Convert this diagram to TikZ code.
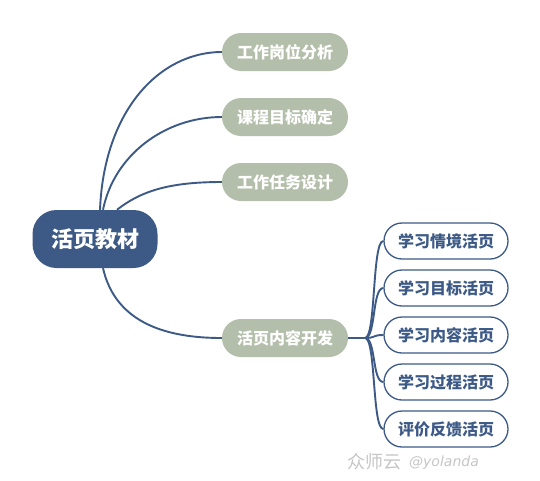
\documentclass[tikz,border=0pt]{standalone}
\usepackage{fontspec}
\setmainfont{Noto Sans CJK SC}
\newfontfamily\markfont{DejaVu Sans}
\usepackage{xcolor}
\definecolor{mapblue}{HTML}{3D5A87}
\definecolor{mapgreen}{HTML}{B3BFAB}
\definecolor{markgray}{HTML}{C6C6C6}

\begin{document}
\begin{tikzpicture}[x=1pt, y=-1pt,
  root/.style={rectangle, rounded corners=24pt, fill=mapblue, text=white, inner sep=0pt,
    minimum width=125pt, minimum height=58pt, font=\fontsize{22}{24}\selectfont\bfseries},
  topic/.style={rectangle, rounded corners=19pt, fill=mapgreen, text=white, inner sep=0pt,
    minimum width=126pt, minimum height=38pt, font=\fontsize{16}{18}\selectfont\bfseries},
  leaf/.style={rectangle, rounded corners=18pt, draw=mapblue, line width=1.3pt, fill=white,
    text=mapblue, inner sep=0pt, minimum width=124pt, minimum height=36pt,
    font=\fontsize{16}{18}\selectfont\bfseries},
  link/.style={draw=mapblue, line width=1.9pt},
  wmark/.style={text=markgray, inner sep=0pt}
]
\fill[white] (0,0) rectangle (540,480);
\useasboundingbox (0,0) rectangle (540,480);

\node[root] (r) at (95,239) {活页教材};
\node[topic] (a1) at (285,52) {工作岗位分析};
\node[topic] (a2) at (285,117) {课程目标确定};
\node[topic] (a3) at (285,182) {工作任务设计};
\node[topic] (a4) at (285,338) {活页内容开发};
\node[leaf] (b1) at (446,241) {学习情境活页};
\node[leaf] (b2) at (446,288) {学习目标活页};
\node[leaf] (b3) at (446,335) {学习内容活页};
\node[leaf] (b4) at (446,382) {学习过程活页};
\node[leaf] (b5) at (446,429) {评价反馈活页};
\coordinate (fork) at (365,338);

% root to topics
\draw[link] ([xshift=5pt]r.north) .. controls (104,110) and (160,52) .. (a1.west);
\draw[link] ([xshift=8pt]r.north) .. controls (114,155) and (165,117) .. (a2.west);
\draw[link] ([xshift=22pt]r.north) .. controls (142,190) and (172,182) .. (a3.west);
\draw[link] ([xshift=8pt]r.south) .. controls (116,325) and (170,338) .. (a4.west);

% topic to pages
\draw[link] (a4.east) -- (fork);
\foreach \i/\y in {1/241, 2/288, 3/335, 4/382, 5/429}
  \draw[link] (fork) .. controls (376,338) and (372,\y) .. (b\i.west);

\node[wmark, font=\fontsize{18}{20}\selectfont] (wm1) at (374,462) {众师云};
\node[wmark, font=\markfont\itshape\fontsize{14}{16}\selectfont, anchor=west] (wm2) at (409,463) {@yolanda};
\end{tikzpicture}
\end{document}
